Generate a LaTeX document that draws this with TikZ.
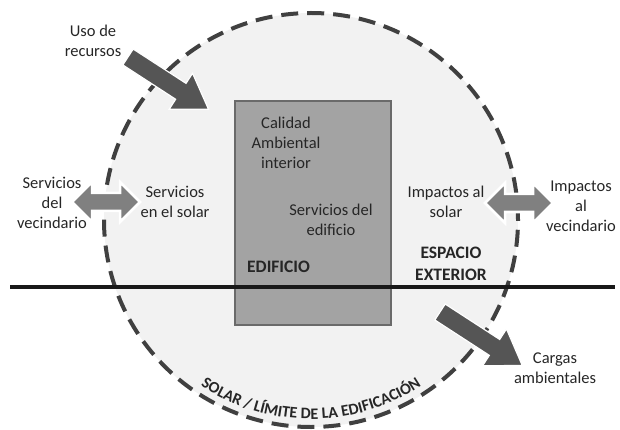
\documentclass[tikz,border=0pt]{standalone}
\usepackage{fontspec}
\setmainfont{Carlito}
\usetikzlibrary{decorations.text}
\definecolor{circfill}{HTML}{F2F2F2}
\definecolor{dashcol}{HTML}{404040}
\definecolor{rectfill}{HTML}{A3A3A3}
\definecolor{rectline}{HTML}{6A6A6A}
\definecolor{bigarrow}{HTML}{555555}
\definecolor{dblarrow}{HTML}{808080}
\definecolor{txt}{HTML}{262626}
\tikzset{
  lbl/.style={inner sep=0pt, align=center, text=txt, font=\fontsize{16.5}{20}\selectfont},
  blbl/.style={lbl, font=\fontsize{17.5}{22}\selectfont\bfseries},
  bigarr/.style={fill=bigarrow, draw=white, line width=1.2pt, line join=miter},
  dblarr/.style={fill=dblarrow, draw=white, line width=2.5pt, line join=miter},
}
\begin{document}
\begin{tikzpicture}[x=1pt,y=1pt]
\useasboundingbox (0,0) rectangle (620,-430);
% site circle
\fill[circfill] (311,-220) circle[radius=207pt];
\draw[dashcol, line width=4pt, dash pattern=on 17pt off 9pt] (311,-220) circle[radius=207pt];
% building
\node[draw=rectline, fill=rectfill, line width=1.5pt, minimum width=156pt, minimum height=224pt, inner sep=0pt] (edif) at (313,-213) {};
% ground line
\coordinate (gl) at (10,-287);
\coordinate (gr) at (615,-287);
\draw[black!90, line width=3.5pt] (gl) -- (gr);
% resource use arrow
\begin{scope}[shift={(128,-57)}, rotate=-33]
\draw[bigarr] (0,9.5) -- (63,9.5) -- (63,21.5) -- (96,0) -- (63,-21.5) -- (63,-9.5) -- (0,-9.5) -- cycle;
\end{scope}
% environmental loads arrow
\begin{scope}[shift={(440,-312)}, rotate=-33]
\draw[bigarr] (0,9.5) -- (65,9.5) -- (65,22) -- (98,0) -- (65,-22) -- (65,-9.5) -- (0,-9.5) -- cycle;
\end{scope}
% double arrows
\begin{scope}[shift={(106,-202)}]
\draw[dblarr] (-34,0) -- (-14,20) -- (-14,9) -- (14,9) -- (14,20) -- (34,0) -- (14,-20) -- (14,-9) -- (-14,-9) -- (-14,-20) -- cycle;
\end{scope}
\begin{scope}[shift={(519,-203)}]
\draw[dblarr] (-34,0) -- (-14,20) -- (-14,9) -- (14,9) -- (14,20) -- (34,0) -- (14,-20) -- (14,-9) -- (-14,-9) -- (-14,-20) -- cycle;
\end{scope}
% labels
\node[lbl] (uso) at (93,-41) {Uso de\\recursos};
\node[lbl] (svec) at (52,-203) {Servicios\\del\\vecindario};
\node[lbl] (ssol) at (175,-202) {Servicios\\en el solar};
\node[lbl] (cal) at (286,-143) {Calidad\\Ambiental\\interior};
\node[lbl] (sedi) at (331,-220) {Servicios del\\edificio};
\node[blbl, anchor=west] (edl) at (247,-267) {EDIFICIO};
\node[lbl] (isol) at (446,-202) {Impactos al\\solar};
\node[lbl] (ivec) at (581,-206) {Impactos\\al\\vecindario};
\node[blbl] (esp) at (451,-264) {ESPACIO\\EXTERIOR};
\node[lbl] (carg) at (555,-368) {Cargas\\ambientales};
% boundary label along arc
\path[decorate, decoration={text along path, text align=center,
  text={|\fontsize{16}{18}\selectfont\bfseries\color{txt}|SOLAR / LÍMITE DE LA EDIFICACIÓN}}]
  (311,-220) ++(226:199pt) arc[start angle=226, end angle=314, radius=199pt];
\end{tikzpicture}
\end{document}
